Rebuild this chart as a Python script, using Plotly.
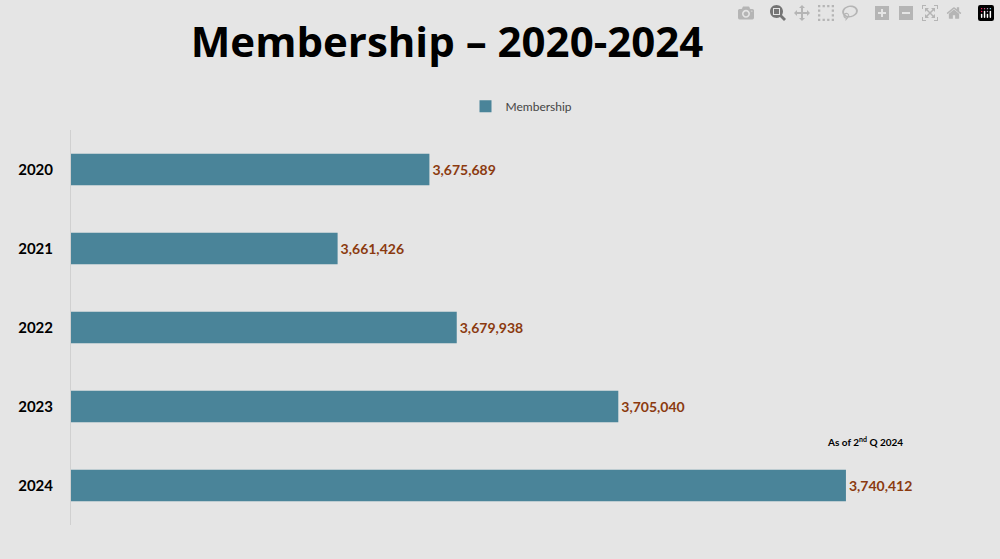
import plotly.graph_objects as go

years = ["2020", "2021", "2022", "2023", "2024"]
members = [3675689, 3661426, 3679938, 3705040, 3740412]
labels = ["3,675,689", "3,661,426", "3,679,938", "3,705,040", "3,740,412"]

fig = go.Figure(
    go.Bar(
        x=members,
        y=years,
        orientation="h",
        name="Membership",
        marker=dict(color="#4a8499", line=dict(width=0)),
        text=labels,
        textposition="outside",
        textfont=dict(color="#8b3a0f", size=14, family="Lato", weight="bold"),
        cliponaxis=False,
        showlegend=True,
    )
)

fig.update_layout(
    width=1000,
    height=559,
    paper_bgcolor="#e5e5e5",
    plot_bgcolor="#e5e5e5",
    margin=dict(l=71, r=28, t=130, b=34),
    bargap=0.6,
    font=dict(family="Lato", color="black"),
    title=dict(
        text="<b>Membership – 2020-2024</b>",
        x=0.447, xanchor="center", y=0.925, yanchor="middle",
        font=dict(size=42, family="Open Sans", color="black"),
    ),
    legend=dict(
        orientation="h", x=0.5, xanchor="center", y=1.06, yanchor="middle",
        font=dict(size=12, color="#444"),
    ),
    xaxis=dict(range=[3620000, 3760000], visible=False),
    yaxis=dict(
        autorange="reversed",
        showgrid=False,
        showline=True,
        linecolor="#d0d0d0",
        ticks="",
        ticklabelstandoff=14,
        tickfont=dict(size=15, family="Lato", weight="bold", color="black"),
    ),
    annotations=[
        dict(
            text="<b>As of 2<sup>nd</sup> Q 2024</b>",
            x=(905 - 71) / 901, xref="paper",
            y=(559 - 34 - 450) / (559 - 130 - 34), yref="paper",
            showarrow=False, font=dict(size=10, color="black"),
        )
    ],
)

fig.write_html(
    "out.html",
    post_script="document.body.style.margin='0';document.body.style.background='#e5e5e5';",
)
